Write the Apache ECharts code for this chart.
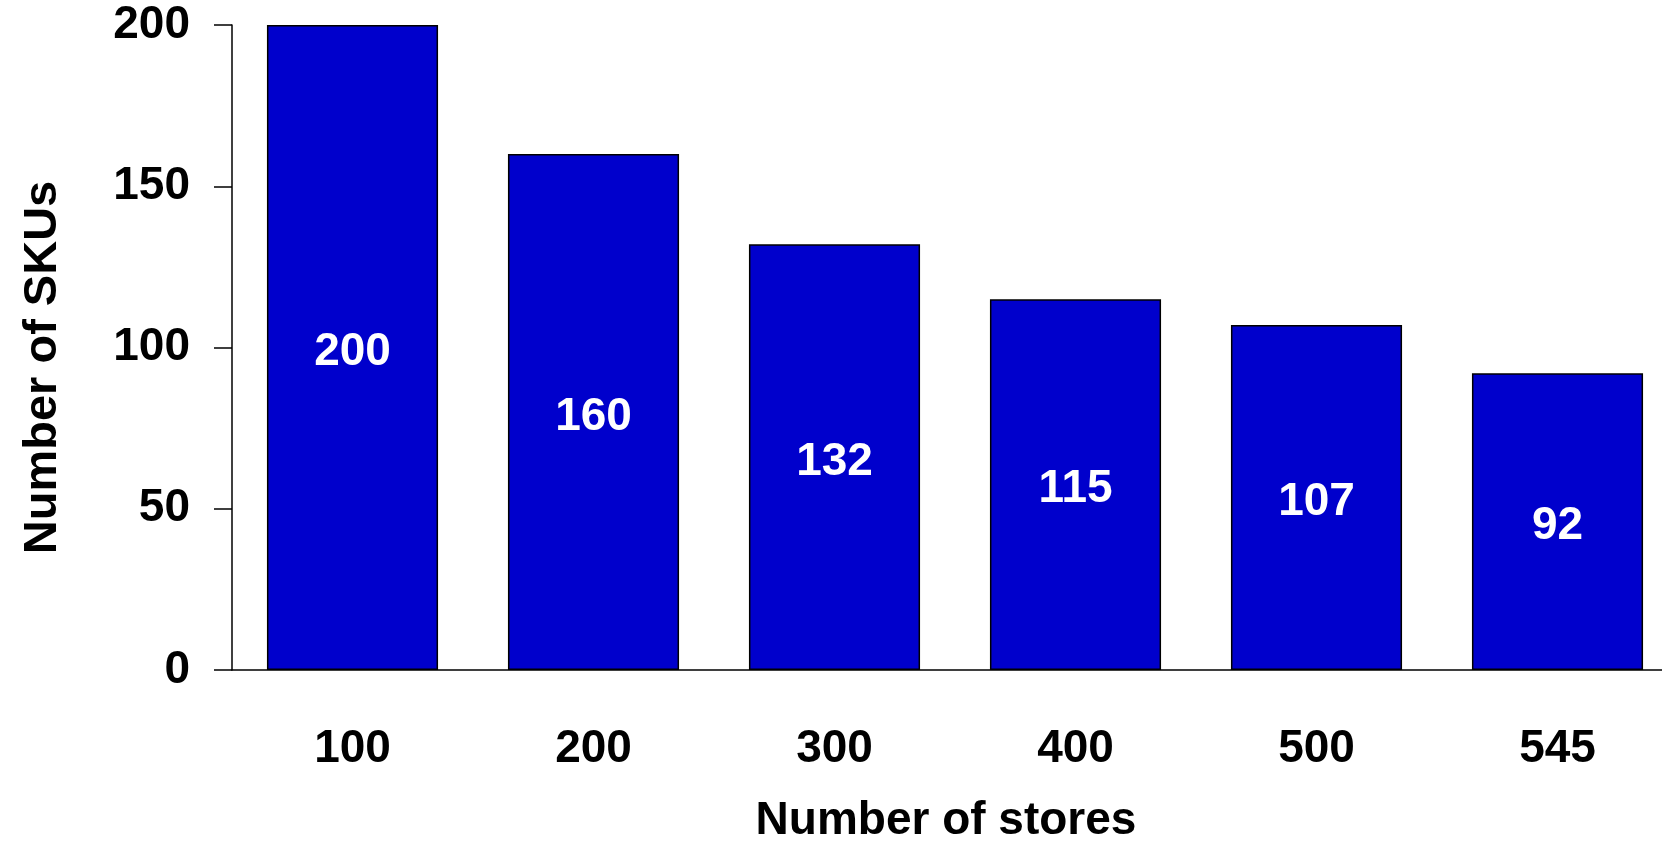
<!DOCTYPE html>
<html>
<head>
<meta charset="utf-8">
<script src="https://cdn.jsdelivr.net/npm/echarts@6/dist/echarts.min.js"></script>
<style>
html,body{margin:0;padding:0;background:#fff;}
#chart{width:1662px;height:841px;}
</style>
</head>
<body>
<div id="chart"></div>
<script>
const categories = ['100', '200', '300', '400', '500', '545'];
const skuCounts = [200, 160, 132, 115, 107, 92];
const xAxisTitle = 'Number of stores';
const yAxisTitle = 'Number of SKUs';

const font = "'Liberation Sans', Arial, sans-serif";
const chart = echarts.init(document.getElementById('chart'));
chart.setOption({
  animation: false,
  backgroundColor: '#ffffff',
  grid: { left: 232, width: 1446, top: 25, height: 645, containLabel: false, outerBoundsMode: 'none' },
  xAxis: {
    type: 'category',
    data: categories,
    name: xAxisTitle,
    nameLocation: 'middle',
    nameGap: 128,
    nameTextStyle: { fontFamily: font, fontWeight: 'bold', fontSize: 46, color: '#000', padding: [0, 18, 0, 0] },
    axisLine: { show: true, lineStyle: { color: '#000', width: 1.5 } },
    axisTick: { show: false },
    axisLabel: { fontFamily: font, fontWeight: 'bold', fontSize: 46, color: '#000', margin: 56 }
  },
  yAxis: {
    type: 'value',
    min: 0,
    max: 200,
    interval: 50,
    name: yAxisTitle,
    nameLocation: 'middle',
    nameGap: 165,
    nameTextStyle: { fontFamily: font, fontWeight: 'bold', fontSize: 47, color: '#000', padding: [0, 40, 0, 0] },
    axisLine: { show: true, lineStyle: { color: '#000', width: 1.5 } },
    axisTick: { show: true, length: 18, lineStyle: { color: '#000', width: 1.5 } },
    axisLabel: { fontFamily: font, fontWeight: 'bold', fontSize: 46, color: '#000', margin: 42 },
    splitLine: { show: false }
  },
  series: [{
    type: 'bar',
    data: skuCounts,
    barCategoryGap: '29%',
    itemStyle: { color: '#0000CC', borderColor: '#000', borderWidth: 1.5 },
    label: {
      show: true,
      position: 'inside',
      offset: [0, 5],
      fontFamily: font,
      fontWeight: 'bold',
      fontSize: 46,
      color: '#fff'
    }
  }]
});
</script>
</body>
</html>
